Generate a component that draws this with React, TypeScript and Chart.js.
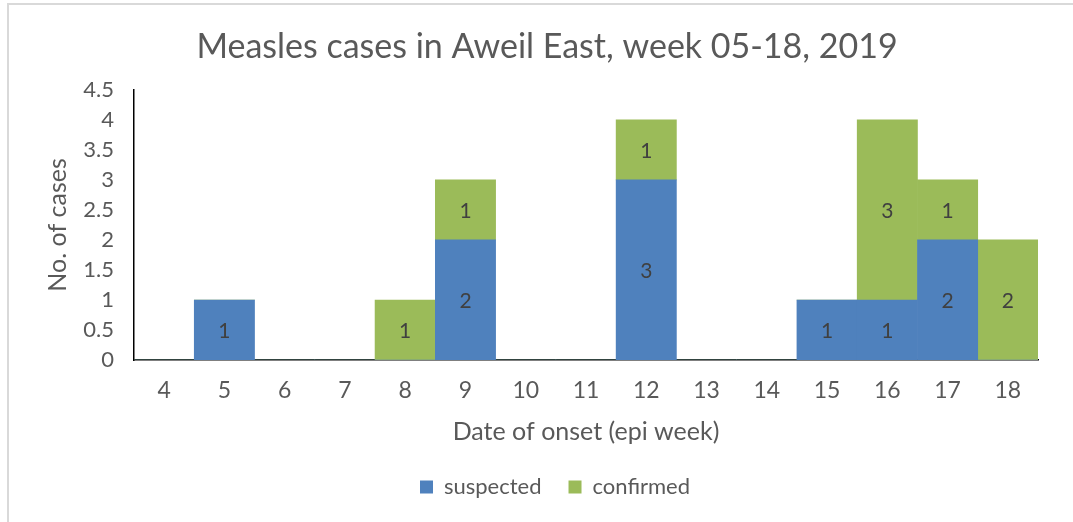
import React, { useEffect, useRef } from "react";
import { Chart, registerables } from "chart.js";

Chart.register(...registerables);

const weeks = ["4", "5", "6", "7", "8", "9", "10", "11", "12", "13", "14", "15", "16", "17", "18"];
const suspected = [0, 1, 0, 0, 0, 2, 0, 0, 3, 0, 0, 1, 1, 2, 0];
const confirmed = [0, 0, 0, 0, 1, 1, 0, 0, 1, 0, 0, 0, 3, 1, 2];

const FONT = "Lato, 'Liberation Sans', sans-serif";
const TEXT = "#595959";
const LEGEND_SHIFT = 36;
const TITLE_SHIFT = 28;

const labelPlugin = {
  id: "barValueLabels",
  afterDatasetsDraw(chart: any) {
    const ctx = chart.ctx;
    ctx.save();
    ctx.font = `21px ${FONT}`;
    ctx.fillStyle = "#404040";
    ctx.textAlign = "center";
    ctx.textBaseline = "middle";
    chart.data.datasets.forEach((ds: any, di: number) => {
      const meta = chart.getDatasetMeta(di);
      meta.data.forEach((el: any, i: number) => {
        const v = ds.data[i];
        if (!v) return;
        ctx.fillText(String(v), el.x, (el.y + el.base) / 2 + 1);
      });
    });
    ctx.restore();
  },
};

const shiftPlugin = {
  id: "blockShift",
  afterLayout(chart: any) {
    if (chart.legend) {
      chart.legend.left += LEGEND_SHIFT;
      chart.legend.right += LEGEND_SHIFT;
    }
    if (chart.titleBlock) {
      chart.titleBlock.left += TITLE_SHIFT;
      chart.titleBlock.right += TITLE_SHIFT;
    }
  },
};

export default function App() {
  const ref = useRef<HTMLCanvasElement>(null);
  useEffect(() => {
    const chart = new Chart(ref.current!, {
      type: "bar",
      data: {
        labels: weeks,
        datasets: [
          {
            label: "suspected",
            data: suspected,
            backgroundColor: "#4F81BD",
            borderWidth: 0,
            categoryPercentage: 1,
            barPercentage: 1,
          },
          {
            label: "confirmed",
            data: confirmed,
            backgroundColor: "#9BBB59",
            borderWidth: 0,
            categoryPercentage: 1,
            barPercentage: 1,
          },
        ],
      },
      options: {
        animation: false,
        responsive: false,
        maintainAspectRatio: false,
        layout: { padding: { left: 0, right: 35, top: 0, bottom: 14 } },
        plugins: {
          tooltip: { enabled: false },
          title: {
            display: true,
            text: "Measles cases in Aweil East, week 05-18, 2019",
            color: TEXT,
            font: { family: FONT, size: 34, weight: "normal" },
            padding: { top: 27, bottom: 22 },
          },
          legend: {
            position: "bottom",
            labels: {
              color: TEXT,
              font: { family: FONT, size: 22 },
              boxWidth: 13,
              boxHeight: 13,
              padding: 27,
            },
          },
        },
        scales: {
          x: {
            stacked: true,
            grid: { display: false, drawTicks: false },
            border: { display: true, color: "#000", width: 1.5 },
            ticks: { color: TEXT, font: { family: FONT, size: 23 }, padding: 17, maxRotation: 0, autoSkip: false },
            title: {
              display: true,
              text: "Date of onset (epi week)",
              color: TEXT,
              font: { family: FONT, size: 25 },
              padding: { top: 0, bottom: 2 },
            },
            afterFit(scale: any) {
              scale.height = 89;
            },
          },
          y: {
            stacked: true,
            min: 0,
            max: 4.5,
            grid: { display: false, drawTicks: false },
            border: { display: true, color: "#000", width: 1.5 },
            ticks: {
              stepSize: 0.5,
              autoSkip: false,
              color: TEXT,
              font: { family: FONT, size: 22 },
              padding: 20,
              callback: (v: any) => String(Number(v)),
            },
            title: {
              display: true,
              text: "No. of cases",
              color: TEXT,
              font: { family: FONT, size: 25 },
              padding: { top: 43, bottom: 0 },
            },
            afterFit(scale: any) {
              scale.width = 134;
            },
          },
        },
      },
      plugins: [labelPlugin, shiftPlugin],
    });
    return () => chart.destroy();
  }, []);

  return (
    <div style={{ position: "absolute", left: 0, top: 0, width: 1073, height: 522, background: "#fff" }}>
      <div
        style={{
          position: "absolute",
          left: 7,
          top: 3,
          width: 1066,
          height: 519,
          borderTop: "2px solid #d9d9d9",
          borderLeft: "2px solid #d9d9d9",
          boxSizing: "border-box",
        }}
      />
      <canvas ref={ref} width={1073} height={522} style={{ position: "absolute", left: 0, top: 0 }} />
    </div>
  );
}
